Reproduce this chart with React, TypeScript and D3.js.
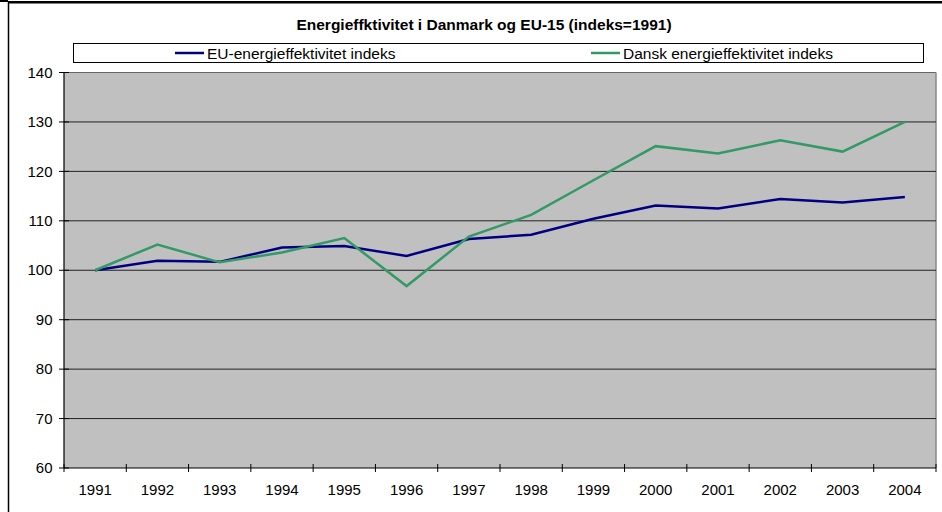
import React from "react";
import * as d3 from "d3";

const years = ["1991","1992","1993","1994","1995","1996","1997","1998","1999","2000","2001","2002","2003","2004"];
const euValues = [100, 101.9, 101.7, 104.6, 104.9, 102.9, 106.3, 107.2, 110.4, 113.1, 112.5, 114.4, 113.7, 114.8];
const dkValues = [100, 105.2, 101.6, 103.6, 106.5, 96.8, 106.8, 111.2, 118.2, 125.1, 123.6, 126.3, 124.0, 130.0];
const yTicks = [60, 70, 80, 90, 100, 110, 120, 130, 140];
const seriesNames = ["EU-energieffektivitet indeks", "Dansk energieffektivitet indeks"];
const title = "Energieffktivitet i Danmark og EU-15 (indeks=1991)";

const W = 942, H = 512;
const plot = { left: 64, right: 936, top: 72.5, bottom: 468 };
const font = "'Liberation Sans', Arial, sans-serif";
const fs = 15;
const legendFs = 15.5;

export default function App() {
  const x = d3.scaleBand<string>().domain(years).range([plot.left, plot.right]);
  const y = d3.scaleLinear().domain([60, 140]).range([plot.bottom, plot.top]);
  const line = d3.line<number>()
    .x((_, i) => (x(years[i]) as number) + x.bandwidth() / 2)
    .y((d) => y(d));
  const series = [
    { name: seriesNames[0], values: euValues, color: "#000080", lx: 175 },
    { name: seriesNames[1], values: dkValues, color: "#339966", lx: 591 },
  ];
  const bounds = [...years.map((yr) => x(yr) as number), plot.right];

  return (
    <svg width={W} height={H} style={{ position: "absolute", left: 0, top: 0, background: "#fff" }} fontFamily={font}>
      {/* outer frame */}
      <line x1={8} x2={W} y1={2.2} y2={2.2} stroke="#000" strokeWidth={2.6} />
      <line x1={8.5} x2={8.5} y1={1} y2={H} stroke="#000" strokeWidth={1.5} />
      <rect x={0} y={0} width={8} height={2} fill="#000" />

      <text x={484} y={30} textAnchor="middle" fontSize={legendFs} fontWeight="bold" fill="#000">{title}</text>

      {/* legend */}
      <rect x={73.5} y={43.5} width={850} height={19} fill="#fff" stroke="#000" strokeWidth={1} />
      {series.map((s) => (
        <g key={s.name}>
          <line x1={s.lx} x2={s.lx + 29} y1={53} y2={53} stroke={s.color} strokeWidth={2.5} />
          <text x={s.lx + 32} y={58.5} fontSize={legendFs} fill="#000">{s.name}</text>
        </g>
      ))}

      {/* plot area */}
      <rect x={plot.left} y={plot.top} width={plot.right - plot.left} height={plot.bottom - plot.top} fill="#c0c0c0" />
      <line x1={plot.left} x2={plot.right} y1={plot.top} y2={plot.top} stroke="#666" strokeWidth={1.2} />
      <line x1={plot.right} x2={plot.right} y1={plot.top} y2={plot.bottom} stroke="#888" strokeWidth={1.5} />
      {yTicks.filter((t) => t !== 60 && t !== 140).map((t) => (
        <line key={t} x1={plot.left} x2={plot.right} y1={y(t)} y2={y(t)} stroke="#222" strokeWidth={1} />
      ))}

      {/* axes */}
      <line x1={plot.left} x2={plot.left} y1={plot.top} y2={plot.bottom} stroke="#000" strokeWidth={1.2} />
      <line x1={plot.left} x2={plot.right} y1={plot.bottom} y2={plot.bottom} stroke="#000" strokeWidth={1.2} />
      {yTicks.map((t) => (
        <g key={t}>
          <line x1={plot.left - 5} x2={plot.left + 5} y1={y(t)} y2={y(t)} stroke="#000" strokeWidth={1} />
          <text x={52.5} y={y(t) + 5.2} textAnchor="end" fontSize={fs} fill="#000">{t}</text>
        </g>
      ))}
      {bounds.map((bx, i) => (
        <line key={i} x1={bx} x2={bx} y1={plot.bottom - 4} y2={plot.bottom + 4} stroke="#000" strokeWidth={1} />
      ))}
      {years.map((yr) => (
        <text key={yr} x={(x(yr) as number) + x.bandwidth() / 2} y={494.5} textAnchor="middle" fontSize={fs} fill="#000">{yr}</text>
      ))}

      {/* series */}
      {series.map((s) => (
        <path key={s.name} d={line(s.values) as string} fill="none" stroke={s.color} strokeWidth={2.5} strokeLinejoin="miter" />
      ))}
    </svg>
  );
}
